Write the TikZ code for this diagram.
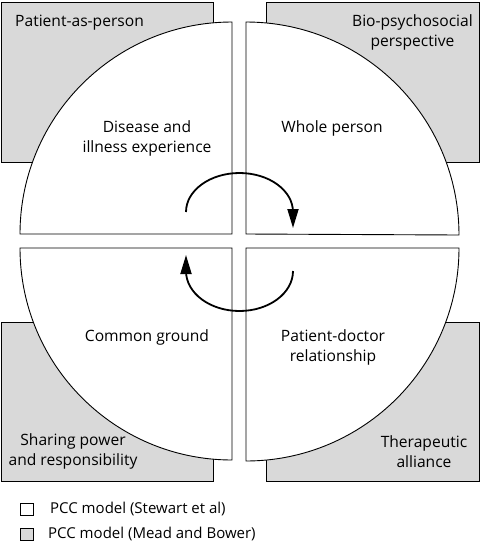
\documentclass[tikz,border=0pt]{standalone}
\usepackage{fontspec}
\setmainfont{Open Sans}
\usetikzlibrary{arrows.meta}
\definecolor{boxgray}{gray}{0.85}
\begin{document}
\begin{tikzpicture}[x=1pt,y=-1pt,
  graybox/.style={draw=black,line width=0.9pt,fill=boxgray},
  quarter/.style={draw=black,line width=0.9pt,fill=white},
  lbl/.style={inner sep=0pt,align=center,font=\fontsize{15.6}{20}\selectfont},
  leg/.style={inner sep=0pt,font=\fontsize{15}{20}\selectfont},
  cyc/.style={line width=1.8pt,-{Triangle[length=19pt,width=11pt]}},
  legbox/.style={draw=black,line width=0.9pt}]
\useasboundingbox (0,0) rectangle (482,542);
% gray rectangles
\draw[graybox] (1,2) rectangle (213,162);
\draw[graybox] (266,2) rectangle (479,162);
\draw[graybox] (1,322) rectangle (213,481);
\draw[graybox] (266,322) rectangle (479,481);
% white quarter discs
\draw[quarter] (232,234) -- (232,22) arc[start angle=270,end angle=180,radius=212] -- cycle;
\draw[quarter] (246,234) -- (246,22) arc[start angle=270,end angle=360,radius=213] -- cycle;
\draw[quarter] (232,248) -- (20,248) arc[start angle=180,end angle=90,radius=212] -- cycle;
\draw[quarter] (246,248) -- (459,248) arc[start angle=0,end angle=90,radius=213] -- cycle;
% labels
\node[lbl,anchor=west] (pap) at (15,23) {Patient-as-person};
\node[lbl,anchor=north east] (bio) at (473,14) {Bio-psychosocial\\perspective};
\node[lbl] (die) at (147,138) {Disease and\\illness experience};
\node[lbl] (who) at (332,128) {Whole person};
\node[lbl] (com) at (147,337) {Common ground};
\node[lbl] (pdr) at (333,347) {Patient-doctor\\relationship};
\node[lbl] (shp) at (73,451) {Sharing power\\and responsibility};
\node[lbl] (the) at (424,452) {Therapeutic\\alliance};
% cycle arrows
\coordinate (a1) at (186,212);
\coordinate (a2) at (293,228);
\coordinate (b1) at (293,271);
\coordinate (b2) at (186,255);
\draw[cyc] (a1) arc[start angle=180,end angle=360,x radius=53.5,y radius=39] -- (a2);
\draw[cyc] (b1) arc[start angle=0,end angle=180,x radius=53.5,y radius=40] -- (b2);
% legend
\draw[legbox,fill=white] (20,503) rectangle (33,515);
\draw[legbox,fill=boxgray] (20,528) rectangle (33,540);
\node[leg,anchor=west] (l1) at (50,509) {PCC model (Stewart et al)};
\node[leg,anchor=west] (l2) at (48,534) {PCC model (Mead and Bower)};
\end{tikzpicture}
\end{document}
